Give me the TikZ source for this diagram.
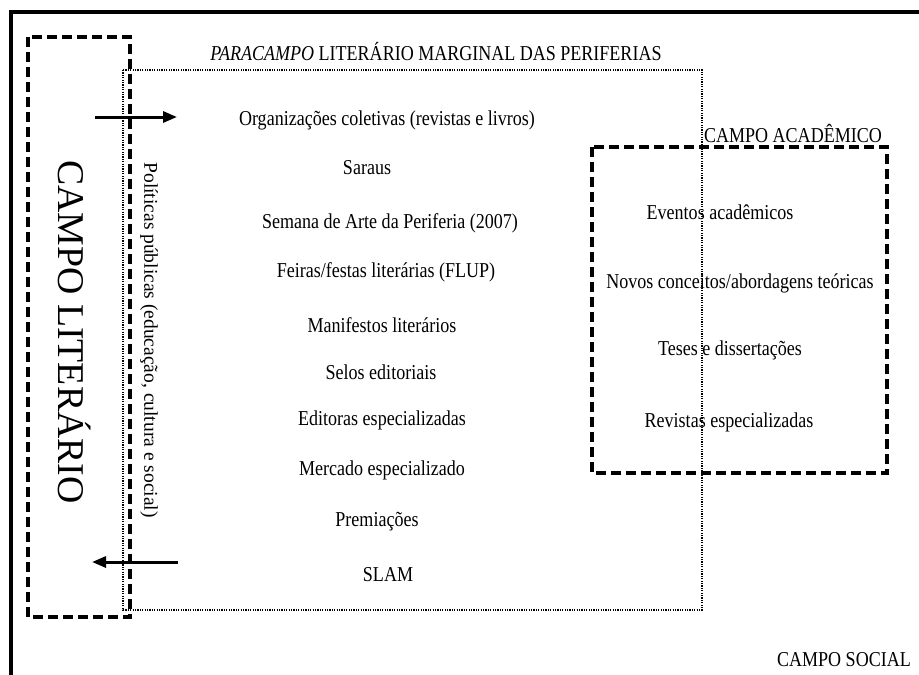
\documentclass[tikz,border=0pt]{standalone}
\usepackage{fontspec}
\setmainfont[FakeStretch=0.85]{Liberation Serif}
\newfontfamily\vertfont{Liberation Serif}
\usetikzlibrary{arrows.meta}
\tikzset{
  campo/.style={line width=3.2pt, dash pattern=on 10pt off 5pt},
  paracampo/.style={line width=1.2pt, dash pattern=on 1.2pt off 1.2pt},
  seta/.style={line width=3pt, -{Triangle[length=14pt,width=11pt]}},
  item/.style={font=\fontsize{21.2}{23}\selectfont, inner sep=0pt},
}

\begin{document}
\begin{tikzpicture}[x=1pt,y=-1pt]
    \useasboundingbox (0,0) rectangle (919,675);
    % campo social (moldura)
    \draw[line width=4pt] (10.5,690) -- (10.5,11.5) -- (935,11.5);
    % campos
    \draw[campo] (28,37) rectangle (130,617);
    \draw[paracampo] (123,70) rectangle (702,610);
    \draw[campo] (592,147) rectangle (887,473);
    % titulos
    \node[item] (paracampo) at (436,52) {{\itshape PARACAMPO} LITERÁRIO MARGINAL DAS PERIFERIAS};
    \node[item] (academico) at (793,133) {CAMPO ACADÊMICO};
    \node[item] (social) at (844,660) {CAMPO SOCIAL};
    \node[rotate=-90, inner sep=0pt, font=\vertfont\fontsize{37.8}{40}\selectfont] (literario) at (75,332) {CAMPO LITERÁRIO};
    \node[rotate=-90, inner sep=0pt, font=\vertfont\fontsize{19.5}{22}\selectfont] (politicas) at (149,340) {Políticas públicas (educação, cultura e social)};
    % itens do paracampo
    \foreach \nome/\px/\py/\texto in {org/387/120/{Organizações coletivas (revistas e livros)},
        saraus/367/168/{Saraus}, semana/390/223/{Semana de Arte da Periferia (2007)},
        feiras/386/272/{Feiras/festas literárias (FLUP)}, manif/382/325/{Manifestos literários},
        selos/381/372/{Selos editoriais}, editoras/382/420/{Editoras especializadas},
        mercado/382/470/{Mercado especializado}, premios/377/522/{Premiações},
        slam/388/575/{SLAM}}
    \node[item] (\nome) at (\px,\py) {\texto};
    % itens do campo academico
    \foreach \nome/\px/\py/\texto in {eventos/720/212/{Eventos acadêmicos},
        conceitos/740/283/{Novos conceitos/abordagens teóricas},
        teses/730/350/{Teses e dissertações}, revistas/729/422/{Revistas especializadas}}
    \node[item] (\nome) at (\px,\py) {\texto};
    % setas
    \coordinate (entraA) at (95,117);
    \coordinate (entraB) at (177,117);
    \coordinate (saiA) at (178,562);
    \coordinate (saiB) at (92,562);
    \draw[seta] (entraA) -- (entraB);
    \draw[seta] (saiA) -- (saiB);
\end{tikzpicture}
\end{document}
